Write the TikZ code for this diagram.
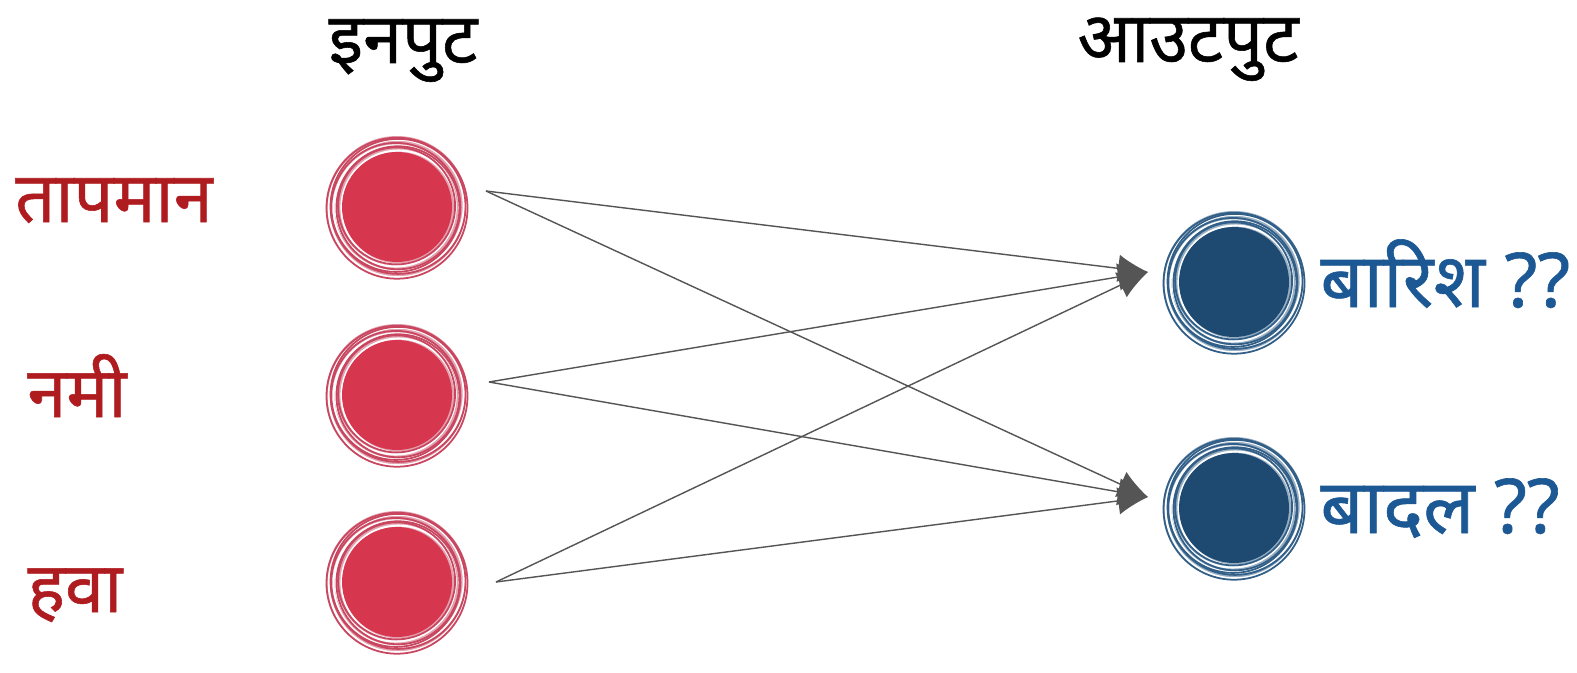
\documentclass[tikz,border=0pt]{standalone}
\usepackage{fontspec}
\newfontfamily\deva[Script=Devanagari, FakeBold=0.8]{Noto Sans}
\usetikzlibrary{arrows.meta}
\definecolor{ballred}{RGB}{214,54,78}
\definecolor{ringred}{RGB}{200,70,95}
\definecolor{labelred}{RGB}{175,28,32}
\definecolor{ballblue}{RGB}{30,74,114}
\definecolor{ringblue}{RGB}{50,95,135}
\definecolor{labelblue}{RGB}{28,88,148}
\definecolor{wire}{RGB}{85,85,85}
\begin{document}
\begin{tikzpicture}[x=0.02cm, y=-0.02cm]
      \tikzset{
	  inball/.style={circle, fill=ballred, minimum size=2.2cm, inner sep=0pt},
	  outball/.style={circle, fill=ballblue, minimum size=2.2cm, inner sep=0pt},
	  headlabel/.style={font=\deva\fontsize{40}{44}\selectfont, text=black, anchor=base, inner sep=0pt},
	  inlabel/.style={font=\deva\fontsize{40}{44}\selectfont, text=labelred, anchor=base, inner sep=0pt},
	  outlabel/.style={font=\deva\fontsize{43}{46}\selectfont, text=labelblue, anchor=base west, inner sep=0pt},
	  wireline/.style={draw=wire, line width=0.8pt, -{Latex[length=0.6cm, width=0.55cm]}}
      }

      \useasboundingbox[fill=white] (0,0) rectangle (1577,672);

      % sketched rings round one ball: #1 centre x, #2 centre y, #3 ring colour
      \def\sketchrings#1#2#3{
        \fill[#3!50!white] (#1,#2) circle (71);
        \foreach \r/\a in {57/20, 60/200, 63/110, 66/300, 69/60}
          \draw[white, line width=1.2pt] (#1,#2) ++(\a:1.5) circle (\r);
        \foreach \r/\a in {58.5/250, 61.5/40, 64.5/160, 67.5/330, 70.5/90}
          \draw[#3, line width=1pt] (#1,#2) ++(\a:1.2) circle (\r);
      }

      \foreach \n/\x/\y in {in1/397/207, in2/397/395, in3/397/582} {
        \sketchrings{\x}{\y}{ringred}
        \node[inball] (\n) at (\x,\y) {};
      }
      \foreach \n/\x/\y in {out1/1234/282, out2/1234/508} {
        \sketchrings{\x}{\y}{ringblue}
        \node[outball] (\n) at (\x,\y) {};
      }

      \node[headlabel] (inhead) at (403,63) {इनपुट};
      \node[headlabel] (outhead) at (1188,62) {आउटपुट};

      \node[inlabel] (temp) at (114,222) {तापमान};
      \node[inlabel] (humid) at (77,417) {नमी};
      \node[inlabel] (wind) at (75,612) {हवा};

      \node[outlabel] (rain) at (1320,307) {बारिश ??};
      \node[outlabel] (cloud) at (1320,533) {बादल ??};

      \coordinate (s1) at (486,191);
      \coordinate (s2) at (489,382);
      \coordinate (s3) at (496,582);
      \coordinate (t1) at (1148,272);
      \coordinate (t2) at (1148,497);

      \foreach \s in {s1,s2,s3}
        \foreach \t in {t1,t2}
          \draw[wireline] (\s) -- (\t);
    \end{tikzpicture}
\end{document}
